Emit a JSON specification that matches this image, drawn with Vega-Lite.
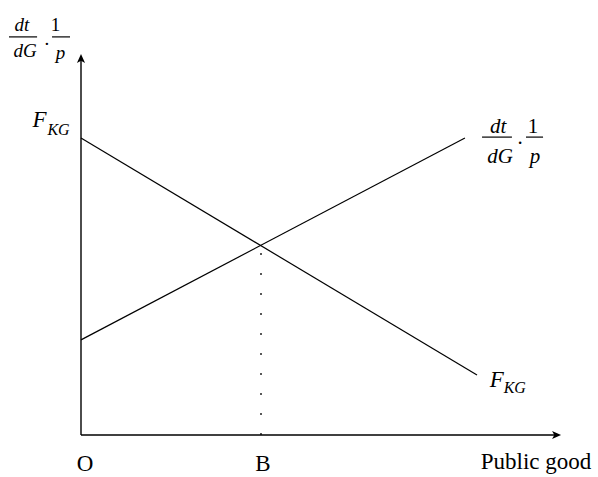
{
  "$schema": "https://vega.github.io/schema/vega-lite/v6.json",
  "width": 598,
  "height": 477,
  "autosize": "none",
  "padding": 0,
  "background": "white",
  "config": {"view": {"stroke": null}},
  "datasets": {
    "axes": [
      {"x": 0, "y": 0, "x2": 0, "y2": 12.5},
      {"x": 0, "y": 0, "x2": 26.33, "y2": 0}
    ],
    "curves": [
      {"curve": "F_KG", "x": 0, "y": 9.9},
      {"curve": "F_KG", "x": 22, "y": 2.0},
      {"curve": "dt/dG·1/p", "x": 0, "y": 3.17},
      {"curve": "dt/dG·1/p", "x": 21.33, "y": 9.9}
    ],
    "dotted": [{"x": 10, "y": 0, "y2": 6.32}],
    "arrowUp": [{"x": 0, "y": 12.55}],
    "arrowRight": [{"x": 26.42, "y": 0}],
    "bars": [
      {"x": -4.0, "x2": -2.44, "y": 13.27},
      {"x": -1.61, "x2": -0.61, "y": 13.27},
      {"x": 22.28, "x2": 23.94, "y": 9.93},
      {"x": 24.72, "x2": 25.67, "y": 9.93}
    ],
    "bigF": [
      {"x": -2.3, "y": 10.27, "t": "F"},
      {"x": 23.1, "y": 1.6, "t": "F"}
    ],
    "subKG": [
      {"x": -1.25, "y": 10.0, "t": "KG"},
      {"x": 24.1, "y": 1.4, "t": "KG"}
    ],
    "leftItalic": [
      {"x": -3.28, "y": 13.47, "t": "dt"},
      {"x": -3.11, "y": 12.6, "t": "dG"},
      {"x": -1.14, "y": 12.53, "t": "p"}
    ],
    "leftRoman": [
      {"x": -1.42, "y": 13.47, "t": "1"},
      {"x": -1.89, "y": 13.0, "t": "."}
    ],
    "rightItalic": [
      {"x": 23.17, "y": 10.07, "t": "dt"},
      {"x": 23.28, "y": 9.07, "t": "dG"},
      {"x": 25.22, "y": 9.07, "t": "p"}
    ],
    "rightRoman": [
      {"x": 25.11, "y": 10.07, "t": "1"},
      {"x": 24.39, "y": 9.7, "t": "."}
    ],
    "axisLabels": [
      {"x": 0.22, "y": -1.2, "t": "O"},
      {"x": 10.11, "y": -1.2, "t": "B"},
      {"x": 25.28, "y": -1.13, "t": "Public good"}
    ]
  },
  "encoding": {
    "x": {"field": "x", "type": "quantitative", "axis": null, "scale": {"domain": [-4.5, 28.7222], "nice": false, "zero": false}},
    "y": {"field": "y", "type": "quantitative", "axis": null, "scale": {"domain": [-1.4, 14.5], "nice": false, "zero": false}}
  },
  "layer": [
    {
      "data": {"name": "axes"},
      "mark": {"type": "rule", "color": "black", "strokeWidth": 1.4},
      "encoding": {"x2": {"field": "x2"}, "y2": {"field": "y2"}}
    },
    {
      "data": {"name": "curves"},
      "mark": {"type": "line", "color": "black", "strokeWidth": 1.2},
      "encoding": {"detail": {"field": "curve", "type": "nominal"}}
    },
    {
      "data": {"name": "dotted"},
      "mark": {"type": "rule", "color": "black", "strokeWidth": 1.3, "strokeDash": [2, 18]},
      "encoding": {"y2": {"field": "y2"}}
    },
    {
      "data": {"name": "arrowUp"},
      "mark": {"type": "point", "filled": true, "color": "black", "opacity": 1, "size": 81, "shape": "M0,-1L0.9,1L0,0.5L-0.9,1Z"},
      "encoding": {}
    },
    {
      "data": {"name": "arrowRight"},
      "mark": {"type": "point", "filled": true, "color": "black", "opacity": 1, "size": 81, "shape": "M1,0L-1,0.9L-0.5,0L-1,-0.9Z"},
      "encoding": {}
    },
    {
      "data": {"name": "bars"},
      "mark": {"type": "rule", "color": "black", "strokeWidth": 1.2},
      "encoding": {"x2": {"field": "x2"}}
    },
    {
      "data": {"name": "bigF"},
      "mark": {"type": "text", "font": "Liberation Serif", "fontStyle": "italic", "fontSize": 23, "align": "center", "baseline": "alphabetic", "color": "black"},
      "encoding": {"text": {"field": "t"}}
    },
    {
      "data": {"name": "subKG"},
      "mark": {"type": "text", "font": "Liberation Serif", "fontStyle": "italic", "fontSize": 16, "align": "center", "baseline": "alphabetic", "color": "black"},
      "encoding": {"text": {"field": "t"}}
    },
    {
      "data": {"name": "leftItalic"},
      "mark": {"type": "text", "font": "Liberation Serif", "fontStyle": "italic", "fontSize": 19, "align": "center", "baseline": "alphabetic", "color": "black"},
      "encoding": {"text": {"field": "t"}}
    },
    {
      "data": {"name": "leftRoman"},
      "mark": {"type": "text", "font": "Liberation Serif", "fontSize": 19, "align": "center", "baseline": "alphabetic", "color": "black"},
      "encoding": {"text": {"field": "t"}}
    },
    {
      "data": {"name": "rightItalic"},
      "mark": {"type": "text", "font": "Liberation Serif", "fontStyle": "italic", "fontSize": 21, "align": "center", "baseline": "alphabetic", "color": "black"},
      "encoding": {"text": {"field": "t"}}
    },
    {
      "data": {"name": "rightRoman"},
      "mark": {"type": "text", "font": "Liberation Serif", "fontSize": 21, "align": "center", "baseline": "alphabetic", "color": "black"},
      "encoding": {"text": {"field": "t"}}
    },
    {
      "data": {"name": "axisLabels"},
      "mark": {"type": "text", "font": "Liberation Serif", "fontSize": 23, "align": "center", "baseline": "alphabetic", "color": "black"},
      "encoding": {"text": {"field": "t"}}
    }
  ]
}
